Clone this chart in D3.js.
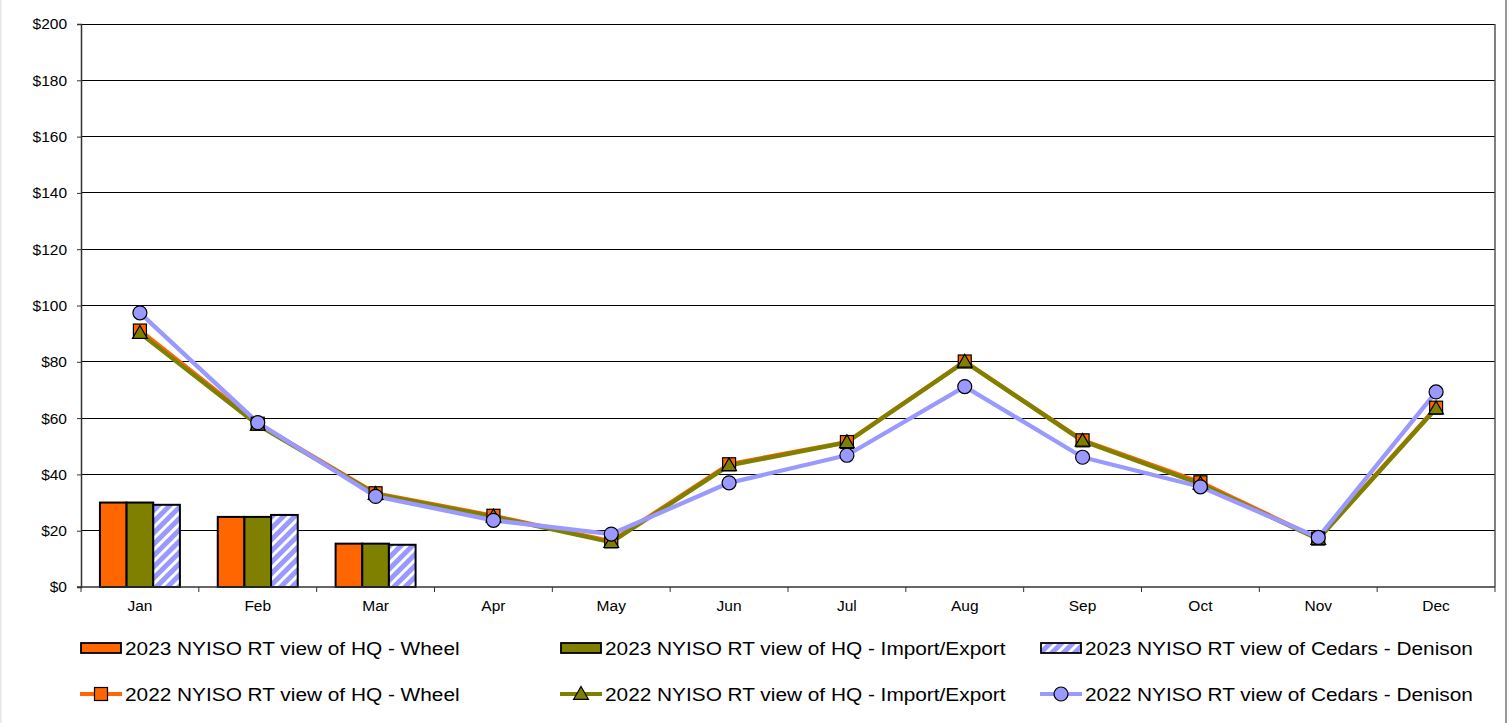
<!DOCTYPE html>
<html>
<head>
<meta charset="utf-8">
<script src="https://cdn.jsdelivr.net/npm/d3@7"></script>
<style>
  body { margin: 0; background: #fff; }
  svg { display: block; font-family: "Liberation Sans", Arial, sans-serif; }
</style>
</head>
<body>
<svg id="chart" width="1509" height="723"></svg>
<script>
// data
var months = ['Jan', 'Feb', 'Mar', 'Apr', 'May', 'Jun', 'Jul', 'Aug', 'Sep', 'Oct', 'Nov', 'Dec'];
var yTicks = [0, 20, 40, 60, 80, 100, 120, 140, 160, 180, 200];

var wheel2023 = [30.0, 24.9, 15.4];
var importExport2023 = [30.0, 24.9, 15.4];
var cedars2023 = [29.2, 25.6, 15.0];

var wheel2022 = [91.1, 58.0, 33.3, 25.3, 16.2, 43.6, 51.5, 80.1, 52.1, 37.2, 17.2, 63.7];
var importExport2022 = [90.2, 57.6, 33.0, 25.0, 15.9, 43.2, 51.4, 80.0, 51.9, 36.6, 17.0, 63.4];
var cedars2022 = [97.4, 58.4, 32.2, 23.7, 18.8, 37.0, 46.8, 71.2, 46.1, 35.6, 17.6, 69.3];

var orange = '#FF6600', olive = '#808000', lavender = '#9999FF';

var svg = d3.select('#chart');
var margin = { left: 81, right: 1495, top: 24, bottom: 587 };

// outer frame hints
svg.append('rect').attr('x', 0).attr('y', 0).attr('width', 1.5).attr('height', 723).attr('fill', '#e6e6e6');
svg.append('rect').attr('x', 1505).attr('y', 0).attr('width', 2).attr('height', 723).attr('fill', '#9a9a9a');

var defs = svg.append('defs');
var pat = defs.append('pattern')
    .attr('id', 'hatch')
    .attr('patternUnits', 'userSpaceOnUse')
    .attr('width', 8).attr('height', 8)
    .attr('patternTransform', 'rotate(45)');
pat.append('rect').attr('width', 8).attr('height', 8).attr('fill', lavender);
pat.append('rect').attr('width', 3).attr('height', 8).attr('fill', '#fff');

var x = d3.scaleBand().domain(months).range([margin.left, margin.right]);
var xb = d3.scaleBand().domain([0, 1, 2]).range([0, x.bandwidth()]).paddingOuter(0.71);
var y = d3.scaleLinear().domain([0, 200]).range([margin.bottom, margin.top]);

// gridlines
svg.append('g').selectAll('line').data(yTicks.slice(1)).enter().append('line')
    .attr('x1', margin.left).attr('x2', margin.right)
    .attr('y1', d => y(d)).attr('y2', d => y(d))
    .attr('stroke', '#000').attr('stroke-width', 1).attr('shape-rendering', 'crispEdges');

// right border
svg.append('line').attr('x1', margin.right).attr('x2', margin.right)
    .attr('y1', margin.top).attr('y2', margin.bottom)
    .attr('stroke', '#555').attr('stroke-width', 1.5);

// bars
var barSeries = [
  { vals: wheel2023, fill: orange },
  { vals: importExport2023, fill: olive },
  { vals: cedars2023, fill: 'url(#hatch)' }
];
barSeries.forEach(function (s, i) {
  svg.append('g').selectAll('rect').data(s.vals).enter().append('rect')
      .attr('x', (d, j) => x(months[j]) + xb(i))
      .attr('y', d => y(d))
      .attr('width', xb.bandwidth())
      .attr('height', d => y(0) - y(d))
      .attr('fill', s.fill)
      .attr('stroke', '#000').attr('stroke-width', 2);
});

// axes
var yAxis = d3.axisLeft(y).tickValues(yTicks).tickSize(4).tickFormat(d => '$' + d);
var gy = svg.append('g').attr('transform', 'translate(' + margin.left + ',0)').call(yAxis);
gy.attr('font-family', null).attr('font-size', null);
gy.select('.domain').attr('stroke', '#333').attr('stroke-width', 1.5);
gy.selectAll('.tick line').attr('stroke', '#333');
gy.selectAll('text').style('font-size', '15.5px').attr('fill', '#000').attr('x', -14);

var gx = svg.append('g').attr('transform', 'translate(0,' + margin.bottom + ')');
gx.append('line').attr('x1', margin.left - 4).attr('x2', margin.right)
    .attr('stroke', '#333').attr('stroke-width', 1.5);
gx.selectAll('.mt').data(months.concat(['end'])).enter().append('line')
    .attr('x1', (d, i) => margin.left + i * x.step()).attr('x2', (d, i) => margin.left + i * x.step())
    .attr('y1', 0).attr('y2', 5).attr('stroke', '#333');
gx.selectAll('text').data(months).enter().append('text')
    .attr('x', d => x(d) + x.bandwidth() / 2).attr('y', 24)
    .attr('text-anchor', 'middle').style('font-size', '15.5px').text(d => d);

// lines
var cx = (d, i) => x(months[i]) + x.bandwidth() / 2;
var line = d3.line().x(cx).y(d => y(d));
var lineSeries = [
  { vals: wheel2022, color: orange, marker: 'square' },
  { vals: importExport2022, color: olive, marker: 'triangle' },
  { vals: cedars2022, color: lavender, marker: 'circle' }
];
lineSeries.forEach(function (s) {
  svg.append('path').datum(s.vals).attr('d', line)
      .attr('fill', 'none').attr('stroke', s.color).attr('stroke-width', 4.3)
      .attr('stroke-linejoin', 'round');
});

function drawMarker(g, type, color, px, py) {
  if (type === 'square') {
    g.append('rect').attr('x', px - 6.5).attr('y', py - 6.5).attr('width', 13).attr('height', 13)
        .attr('fill', color).attr('stroke', '#000').attr('stroke-width', 1.2);
  } else if (type === 'triangle') {
    g.append('path').attr('d', d3.symbol().type(d3.symbolTriangle).size(95)())
        .attr('transform', 'translate(' + px + ',' + (py + 1) + ')')
        .attr('fill', color).attr('stroke', '#000').attr('stroke-width', 1.2);
  } else {
    g.append('circle').attr('cx', px).attr('cy', py).attr('r', 7)
        .attr('fill', color).attr('stroke', '#000').attr('stroke-width', 1.2);
  }
}

lineSeries.forEach(function (s) {
  var g = svg.append('g');
  s.vals.forEach(function (d, i) { drawMarker(g, s.marker, s.color, cx(d, i), y(d)); });
});

// legend
var legend = [
  { label: '2023 NYISO RT view of HQ - Wheel', kind: 'bar', fill: orange, col: 0, row: 0 },
  { label: '2023 NYISO RT view of HQ - Import/Export', kind: 'bar', fill: olive, col: 1, row: 0 },
  { label: '2023 NYISO RT view of Cedars - Denison', kind: 'bar', fill: 'url(#hatch)', col: 2, row: 0 },
  { label: '2022 NYISO RT view of HQ - Wheel', kind: 'line', fill: orange, marker: 'square', col: 0, row: 1 },
  { label: '2022 NYISO RT view of HQ - Import/Export', kind: 'line', fill: olive, marker: 'triangle', col: 1, row: 1 },
  { label: '2022 NYISO RT view of Cedars - Denison', kind: 'line', fill: lavender, marker: 'circle', col: 2, row: 1 }
];
var colX = [80, 560, 1040];
var rowY = [648, 694];
legend.forEach(function (l) {
  var lx = colX[l.col], ly = rowY[l.row];
  var g = svg.append('g');
  if (l.kind === 'bar') {
    g.append('rect').attr('x', lx + 1).attr('y', ly - 5).attr('width', 40).attr('height', 10)
        .attr('fill', l.fill).attr('stroke', '#000').attr('stroke-width', 1.8);
  } else {
    g.append('line').attr('x1', lx).attr('x2', lx + 42).attr('y1', ly).attr('y2', ly)
        .attr('stroke', l.fill).attr('stroke-width', 4);
    drawMarker(g, l.marker, l.fill, lx + 21, ly);
  }
  g.append('text')
      .attr('transform', 'translate(' + (lx + 45) + ',' + (ly + 6.5) + ') scale(1.19,1)')
      .style('font-size', '17.5px').text(l.label);
});
</script>
</body>
</html>
